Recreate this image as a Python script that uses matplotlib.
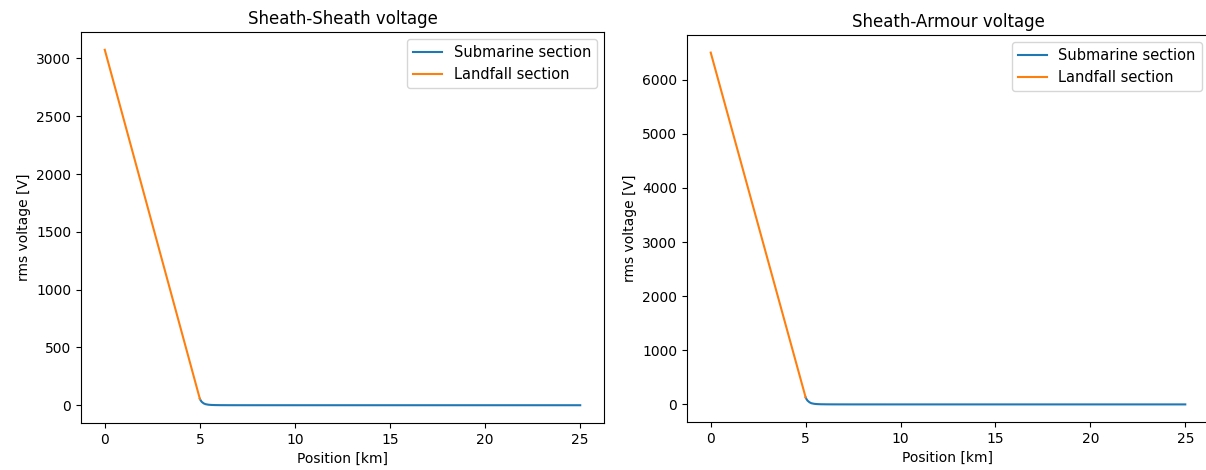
import matplotlib
matplotlib.use("Agg")
import matplotlib.pyplot as plt

# Sheath-Sheath data
land_x = [0.0, 5.0]
ss_land_y = [3075, 55]
sub_x = [5.0, 5.05, 5.1, 5.2, 5.3, 5.45, 5.6, 5.8, 6.1, 6.5, 7.5, 10, 15, 20, 25]
ss_sub_y = [55, 40, 29, 16, 9, 4.5, 2.5, 1.3, 0.6, 0.3, 0.1, 0, 0, 0, 0]

# Sheath-Armour data
sa_land_y = [6500, 130]
sa_sub_y = [130, 95, 70, 40, 22, 11, 6, 3, 1.5, 0.7, 0.2, 0, 0, 0, 0]

titles = ["Sheath-Sheath voltage", "Sheath-Armour voltage"]
xlabel = "Position [km]"
ylabel = "rms voltage [V]"
labels = ["Submarine section", "Landfall section"]

fig = plt.figure(figsize=(12.06, 4.70), dpi=100)
ax1 = fig.add_axes([81/1206, 1 - 423/470, (604-81)/1206, (423-32)/470])
ax2 = fig.add_axes([687/1206, 1 - 422/470, (1209-687)/1206, (422-35)/470])

for ax, sub_y, land_y, title in [(ax1, ss_sub_y, ss_land_y, titles[0]),
                                  (ax2, sa_sub_y, sa_land_y, titles[1])]:
    ax.plot(sub_x, sub_y, color="#1f77b4", label=labels[0])
    ax.plot(land_x, land_y, color="#ff7f0e", label=labels[1])
    ax.set_title(title)
    ax.set_xlabel(xlabel)
    ax.set_ylabel(ylabel)
    ax.legend(loc="upper right", fontsize=10.5)

fig.savefig("out.png", dpi=100)
